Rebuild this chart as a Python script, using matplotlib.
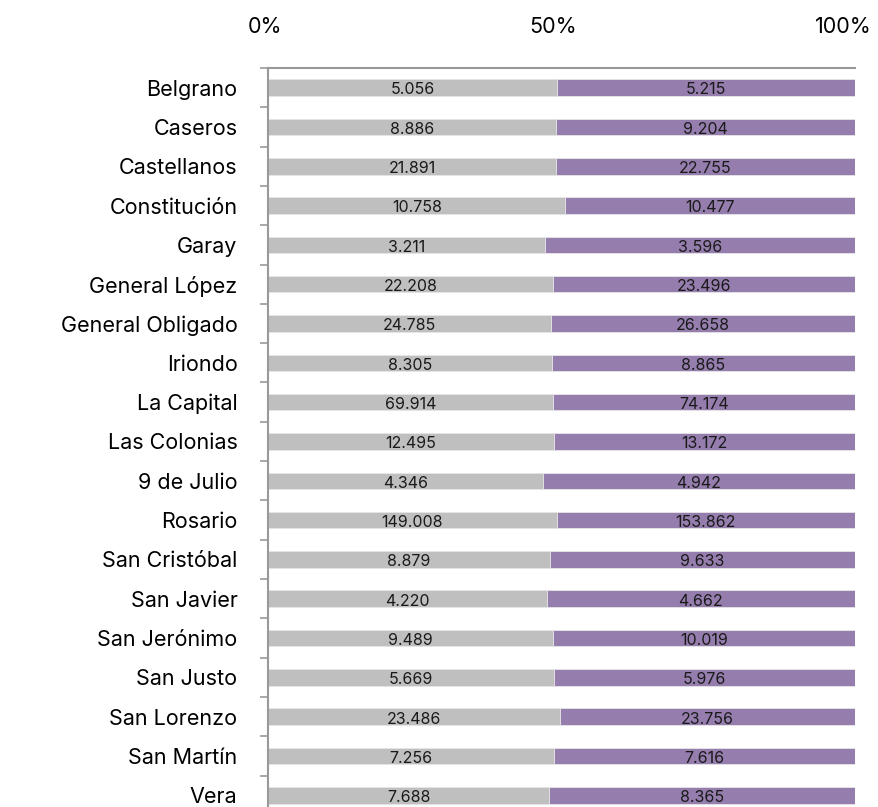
import matplotlib
matplotlib.use("Agg")
import matplotlib.pyplot as plt
import matplotlib.transforms as mtransforms
import numpy as np

plt.rcParams['font.family'] = ['Inter', 'DejaVu Sans']

departamentos = ['Belgrano', 'Caseros', 'Castellanos', 'Constitución', 'Garay',
                 'General López', 'General Obligado', 'Iriondo', 'La Capital',
                 'Las Colonias', '9 de Julio', 'Rosario', 'San Cristóbal',
                 'San Javier', 'San Jerónimo', 'San Justo', 'San Lorenzo',
                 'San Martín', 'Vera']
serie_gris = [5056, 8886, 21891, 10758, 3211, 22208, 24785, 8305, 69914,
              12495, 4346, 149008, 8879, 4220, 9489, 5669, 23486, 7256, 7688]
serie_violeta = [5215, 9204, 22755, 10477, 3596, 23496, 26658, 8865, 74174,
                 13172, 4942, 153862, 9633, 4662, 10019, 5976, 23756, 7616, 8365]
xtick_labels = ['0%', '50%', '100%']


def fmt(v):
    return f"{v:,}".replace(",", ".")


gris = np.array(serie_gris, dtype=float)
violeta = np.array(serie_violeta, dtype=float)
total = gris + violeta
p_gris = gris / total * 100
p_violeta = violeta / total * 100

fig = plt.figure(figsize=(8.79, 8.07), dpi=100)
ax = fig.add_axes([0.305, -0.0099, 0.6675, 0.9257])

y = np.arange(len(departamentos))
h = 0.42
ax.barh(y, p_gris, h, color='#BFBFBF', edgecolor='#E6E6E6', linewidth=0.6)
ax.barh(y, p_violeta, h, left=p_gris, color='#957DAD', edgecolor='#E6E6E6', linewidth=0.6)

for i in range(len(departamentos)):
    ax.text(p_gris[i] / 2, y[i] + 0.06, fmt(serie_gris[i]), ha='center', va='center',
            fontsize=11.5, color='#1a1a1a')
    ax.text(p_gris[i] + p_violeta[i] / 2, y[i] + 0.06, fmt(serie_violeta[i]),
            ha='center', va='center', fontsize=11.5, color='#1a1a1a')

ax.set_xlim(0, 100)
ax.set_ylim(len(departamentos) - 0.5, -0.5)
ax.set_yticks(y)
ax.set_yticklabels(departamentos, fontsize=15.5)
ax.set_yticks(np.arange(-0.5, len(departamentos), 1), minor=True)
ax.tick_params(axis='y', which='major', length=0, pad=22)
ax.tick_params(axis='y', which='minor', length=6, color='#999999', width=1.2)

ax.xaxis.tick_top()
ax.set_xticks([0, 50, 100])
ax.set_xticklabels(xtick_labels, fontsize=15.5)
ax.tick_params(axis='x', length=0, pad=22)
for lbl, dx in zip(ax.get_xticklabels(), [-3, -8, -12]):
    lbl.set_transform(lbl.get_transform() +
                      mtransforms.ScaledTranslation(dx / 100, 0, fig.dpi_scale_trans))

for s in ['right', 'bottom']:
    ax.spines[s].set_visible(False)
ax.spines['top'].set_color('#999999')
ax.spines['left'].set_color('#999999')
ax.spines['top'].set_linewidth(1.5)
ax.spines['left'].set_linewidth(1.5)

fig.savefig('out.png', dpi=100)
